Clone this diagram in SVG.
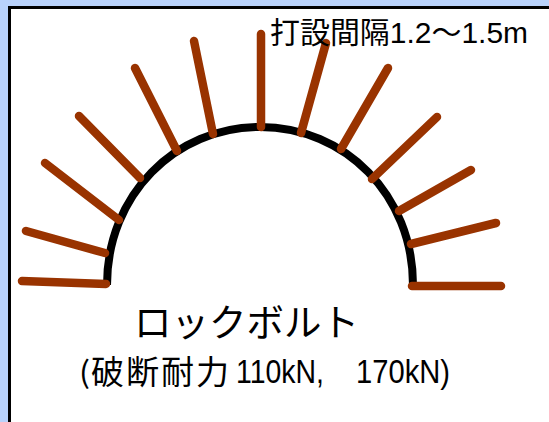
<svg xmlns="http://www.w3.org/2000/svg" width="549" height="422" viewBox="0 0 549 422">
<style>
.b{stroke:#993300;stroke-width:8.500;stroke-linecap:round;fill:none}
.a{stroke:#000;stroke-width:8;fill:none}
.t{fill:#000;font-family:"Liberation Sans","Noto Sans CJK JP",sans-serif}
.j{fill:#000;font-family:"Noto Sans CJK JP","Liberation Sans",sans-serif;font-weight:400}
.m{fill:#000;font-family:"Liberation Sans","Noto Sans CJK JP",sans-serif}
</style>
<rect width="549" height="422" fill="#b9d2fb"/>
<rect x="9.500" y="7.500" width="545" height="420" fill="#fff" stroke="#000" stroke-width="3"/>
<g id="arch"><path class="a" d="M107 285C107 195 175 127 260 127C345 127 413 195 413 285"/></g>
<g id="bolts">
<line class="b" x1="261" y1="34" x2="261" y2="127"/>
<line class="b" x1="194" y1="41" x2="213" y2="134"/>
<line class="b" x1="135" y1="68" x2="177" y2="151"/>
<line class="b" x1="79" y1="116" x2="140" y2="178"/>
<line class="b" x1="45" y1="163" x2="119" y2="220"/>
<line class="b" x1="26" y1="231" x2="105" y2="253"/>
<line class="b" x1="22" y1="281" x2="106" y2="284"/>
<line class="b" x1="326" y1="43" x2="301" y2="133"/>
<line class="b" x1="388" y1="68" x2="341" y2="149"/>
<line class="b" x1="437" y1="117" x2="372" y2="179"/>
<line class="b" x1="471" y1="170" x2="399" y2="211"/>
<line class="b" x1="496" y1="223" x2="411" y2="244"/>
<line class="b" x1="412" y1="286" x2="501" y2="286"/>
</g>
<g id="labels">
<text class="t" x="270" y="43" font-size="29.500" textLength="258" lengthAdjust="spacingAndGlyphs">打設間隔1.2～1.5m</text>
<text class="j" x="134" y="336" font-size="37.500" textLength="225" lengthAdjust="spacing">ロックボルト</text>
<text class="j" x="79" y="383" font-size="30" textLength="11" lengthAdjust="spacingAndGlyphs">(</text>
<text class="j" x="91" y="384" font-size="33" textLength="138" lengthAdjust="spacing">破断耐力</text>
<text class="m" x="236" y="383" font-size="34" textLength="88" lengthAdjust="spacingAndGlyphs">110kN,</text>
<text class="m" x="356" y="383" font-size="34" textLength="94" lengthAdjust="spacingAndGlyphs">170kN)</text>
</g>
</svg>
